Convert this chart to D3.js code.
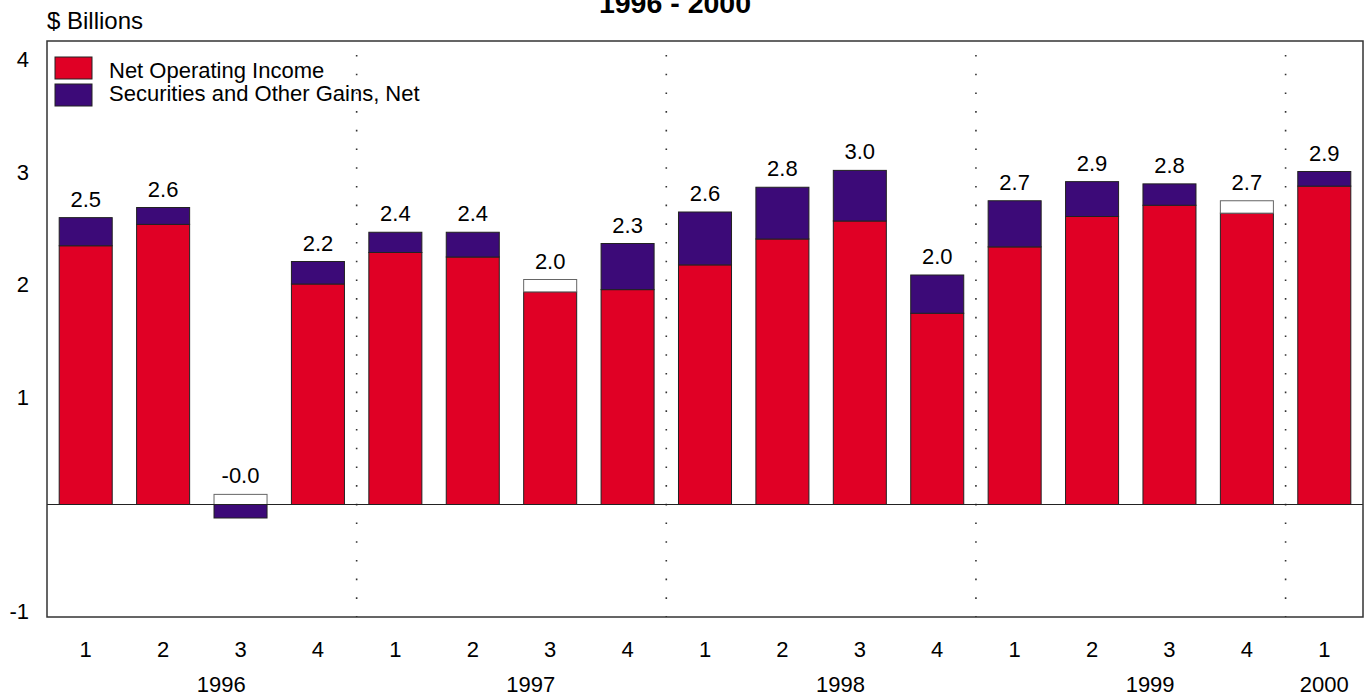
<!DOCTYPE html>
<html>
<head>
<meta charset="utf-8">
<script src="https://cdn.jsdelivr.net/npm/d3@7/dist/d3.min.js"></script>
<style>
  html, body { margin: 0; padding: 0; background: #fff; }
  svg { display: block; font-family: "Liberation Sans", Arial, sans-serif; }
</style>
</head>
<body>
<svg id="chart" width="1366" height="696"></svg>
<script>
// ---- data ----
const quarters = ["1","2","3","4","1","2","3","4","1","2","3","4","1","2","3","4","1"];
const barYears = ["1996","1996","1996","1996","1997","1997","1997","1997","1998","1998","1998","1998","1999","1999","1999","1999","2000"];
const years = ["1996","1997","1998","1999","2000"];
const netOperatingIncome = [2.30, 2.49, 0.09, 1.96, 2.24, 2.20, 2.00, 1.91, 2.13, 2.36, 2.52, 1.70, 2.29, 2.56, 2.66, 2.70, 2.83];
const securitiesGains    = [0.25, 0.15, -0.21, 0.20, 0.18, 0.22, -0.11, 0.41, 0.47, 0.46, 0.45, 0.34, 0.41, 0.31, 0.19, -0.11, 0.13];
const valueLabels = ["2.5","2.6","-0.0","2.2","2.4","2.4","2.0","2.3","2.6","2.8","3.0","2.0","2.7","2.9","2.8","2.7","2.9"];
const yTickValues = [4, 3, 2, 1, -1];
const yTickLabels = ["4", "3", "2", "1", "-1"];
const seriesNames = ["Net Operating Income", "Securities and Other Gains, Net"];
const seriesColors = ["#E00025", "#3C0A78"];
const titleText = "1996 - 2000";
const unitText = "$ Billions";

// ---- layout ----
const svg = d3.select("#chart");
const plot = { left: 47, right: 1363, top: 41, bottom: 617 };
const fontSize = 22;

const x = d3.scaleBand()
  .domain(d3.range(quarters.length))
  .range([plot.left, plot.right])
  .paddingInner(0.315)
  .paddingOuter(0.1575);
const step = x.step();

const y = d3.scaleLinear().domain([-1, 4.12]).range([plot.bottom, plot.top]);

// title (partly above the top edge, as in the reference)
svg.append("text")
  .attr("x", 675).attr("y", 13)
  .attr("text-anchor", "middle")
  .attr("font-weight", "bold")
  .attr("font-size", 28.5)
  .text(titleText);

svg.append("text")
  .attr("x", plot.left).attr("y", 29)
  .attr("font-size", 24)
  .text(unitText);

// year boundary dotted lines
const boundaries = [];
for (let i = 1; i < barYears.length; i++) if (barYears[i] !== barYears[i - 1]) boundaries.push(i);
svg.append("g").selectAll("line").data(boundaries).join("line")
  .attr("x1", d => x(d) - x.paddingInner() * step / 2)
  .attr("x2", d => x(d) - x.paddingInner() * step / 2)
  .attr("y1", plot.top + 14).attr("y2", plot.bottom)
  .attr("stroke", "#333").attr("stroke-width", 1.6)
  .attr("stroke-dasharray", "1.6,17.1");

// bars
const bars = svg.append("g");
quarters.forEach((q, i) => {
  const ops = netOperatingIncome[i];
  const g = securitiesGains[i];
  const total = ops + g;
  const segs = [];
  if (g >= 0) {
    segs.push({ y0: 0, y1: ops, fill: seriesColors[0] });
    segs.push({ y0: ops, y1: total, fill: seriesColors[1] });
  } else if (total >= 0) {
    segs.push({ y0: 0, y1: total, fill: seriesColors[0] });
    segs.push({ y0: total, y1: ops, fill: "#ffffff", stroke: "#666" });
  } else {
    if (ops > 0) segs.push({ y0: 0, y1: ops, fill: "#ffffff", stroke: "#666" });
    segs.push({ y0: total, y1: 0, fill: seriesColors[1] });
  }
  segs.forEach(s => {
    bars.append("rect")
      .attr("x", x(i))
      .attr("width", x.bandwidth())
      .attr("y", y(Math.max(s.y0, s.y1)))
      .attr("height", Math.abs(y(s.y0) - y(s.y1)))
      .attr("fill", s.fill)
      .attr("stroke", s.stroke || "#222")
      .attr("stroke-width", 1);
  });
  const topVal = Math.max(ops, total, 0);
  bars.append("text")
    .attr("x", x(i) + x.bandwidth() / 2)
    .attr("y", y(topVal) - 11)
    .attr("text-anchor", "middle")
    .attr("font-size", fontSize)
    .text(valueLabels[i]);
});

// zero line
svg.append("line")
  .attr("x1", plot.left).attr("x2", plot.right)
  .attr("y1", y(0)).attr("y2", y(0))
  .attr("stroke", "#222").attr("stroke-width", 1.2);

// frame
svg.append("rect")
  .attr("x", plot.left).attr("y", plot.top)
  .attr("width", plot.right - plot.left).attr("height", plot.bottom - plot.top)
  .attr("fill", "none").attr("stroke", "#333").attr("stroke-width", 1.5);

// y axis labels
const yAxis = d3.axisLeft(y).tickValues(yTickValues).tickSize(0).tickPadding(18)
  .tickFormat(d => yTickLabels[yTickValues.indexOf(d)]);
const ya = svg.append("g").attr("transform", `translate(${plot.left},0)`).call(yAxis);
ya.select(".domain").remove();
ya.selectAll("text")
  .attr("font-size", fontSize).attr("font-family", null).attr("fill", "#000")
  .attr("dy", null)
  .attr("y", d => Math.min(12, plot.bottom + 1 - y(d)));

// x axis: quarters
const xAxis = d3.axisBottom(x).tickSize(0).tickPadding(0).tickFormat(i => quarters[i]);
const xa = svg.append("g").attr("transform", `translate(0,${plot.bottom})`).call(xAxis);
xa.select(".domain").remove();
xa.selectAll("text")
  .attr("font-size", fontSize).attr("font-family", null).attr("fill", "#000")
  .attr("dy", null).attr("y", 40);

// year labels
const yearCenters = years.map(yr => {
  const idx = d3.range(barYears.length).filter(i => barYears[i] === yr);
  const first = idx[0], n = idx.length;
  const start = x(first) - x.paddingInner() * step / 2;
  return n >= 4 ? start + 2.25 * step : x(first) + x.bandwidth() / 2;
});
svg.append("g").selectAll("text").data(years).join("text")
  .attr("x", (d, i) => yearCenters[i])
  .attr("y", 692)
  .attr("text-anchor", "middle")
  .attr("font-size", fontSize)
  .text(d => d);

// legend
const legend = svg.append("g");
seriesNames.forEach((name, i) => {
  legend.append("rect")
    .attr("x", 55).attr("y", 57 + i * 27)
    .attr("width", 37).attr("height", 22)
    .attr("fill", seriesColors[i]).attr("stroke", "#222").attr("stroke-width", 1);
  legend.append("text")
    .attr("x", 109).attr("y", 78 + i * 23)
    .attr("font-size", fontSize)
    .text(name);
});
</script>
</body>
</html>
